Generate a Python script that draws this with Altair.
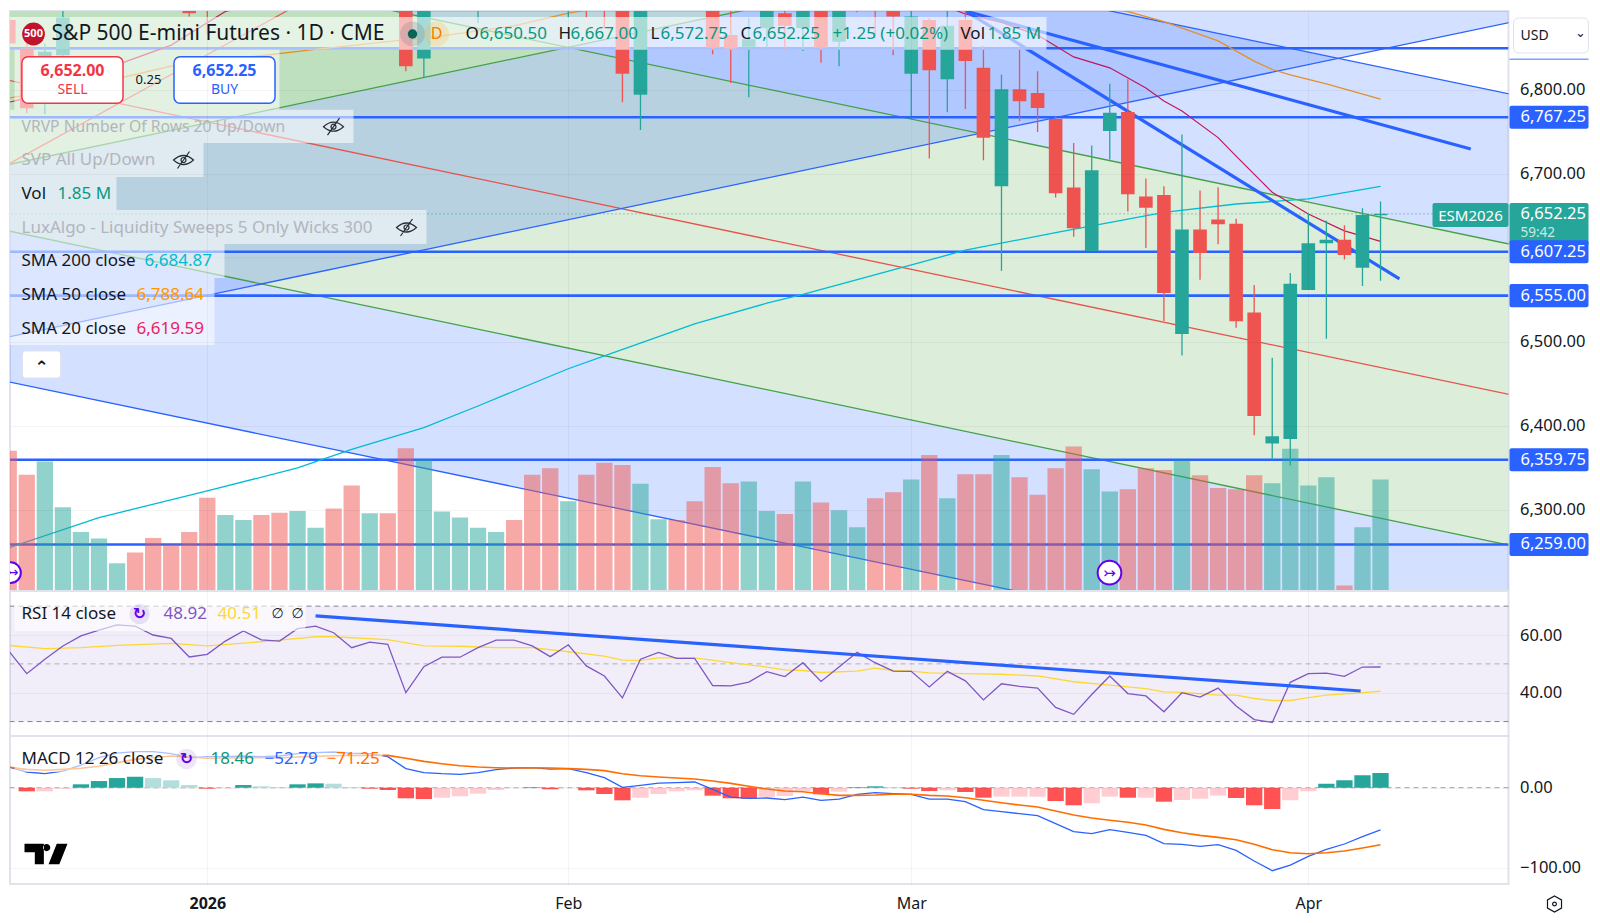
import altair as alt
import pandas as pd

# ---------- data ----------
opens = [6883,6849,6800,6841,6900,6905,6925,6945,6945,6935,6920,6925,6915,6930,6955,6960,6945,6960,6980,6970,
         6945,6960,6925,6837,6925,6925,6920,6930,6945,6935,6925,6905,6925,6920,6925,6794,6915,6935,6930,6925,
         6865,6851,6873,6891,6873.5,6925,6857,6895,6930,6899,6819,6883,6812.5,6883,6826,6685.1,6800.5,6796.1,
         6765.2,6683.5,6608.2,6750.9,6773.5,6672.8,6674.8,6509.3,6633.8,6645.7,6640.5,6535,6379.2,6384.4,
         6561.6,6617.2,6621.5,6588.2,6650.5]
closes = [6855,6778,6845,6886,6925,6930,6935,6930,6925,6915,6891,6898,6930,6945,6940,6945,6965,6975,6965,6945,
          6960,6930,6828,6925,6945,6940,6935,6945,6930,6915,6905,6925,6900,6898,6819,6920,6930,6915,6910,6850,
          6849,6860,6905,6876,6915,6850,6910,6915,6905,6887,6887,6823,6876,6834,6742.7,6800.5,6786.2,6778.3,
          6676.8,6635.2,6704.2,6772.7,6675.6,6659.4,6558.2,6633.8,6605.7,6639.8,6524.4,6411.8,6387.6,6569.2,
          6617.2,6621.5,6603.3,6651,6652.25]
highs = [6895,6860,6855,6905,6935,6940,6945,6950,6950,6940,6925,6930,6935,6950,6960,6965,6970,6980,6985,6975,
         6965,6965,6930,6935,6950,6945,6940,6950,6950,6940,6930,6930,6930,6925,6930,6925,6935,6940,6940,6930,
         6905,6885,6915,6905,6925,6935,6925,6925,6940,6915,6905,6885,6905,6905,6852,6818,6850,6821.9,6768.4,
         6736.7,6733.5,6807.2,6812.4,6694.2,6685.1,6746.6,6680,6684,6646.5,6567.6,6481.2,6581.9,6652.4,
         6644.5,6638.6,6659,6667]
lows = [6840,6772,6771,6825,6897,6898,6915,6920,6915,6905,6887,6866,6905,6920,6925,6935,6940,6950,6955,6930,
        6925,6905,6822,6814,6915,6905,6879,6915,6915,6905,6898,6886,6886,6873,6785,6752,6905,6905,6900,6842,
        6808,6791,6849,6848,6846,6832,6828,6892,6861,6841,6768,6718,6773,6777,6716,6584.4,6762.8,6749.8,
        6671.6,6624.9,6608.2,6716.8,6655,6611.8,6524.8,6483.9,6573.9,6616,6516.8,6388.8,6359.8,6353,6561.6,
        6503.8,6598.1,6566.5,6572.75]
volumes = [2.33,1.93,2.15,1.39,0.98,0.87,0.46,0.64,0.88,0.77,0.98,1.55,1.26,1.18,1.26,1.30,1.33,1.05,1.37,1.75,
           1.29,1.29,2.37,2.18,1.32,1.22,1.05,0.98,1.18,1.93,2.04,1.49,1.93,2.13,2.09,1.78,1.19,1.18,1.49,2.06,
           1.79,1.82,1.33,1.28,1.82,1.47,1.34,1.06,1.54,1.64,1.85,2.26,1.54,1.94,1.94,2.26,1.89,1.60,2.04,2.40,
           2.02,1.65,1.69,2.04,2.01,2.17,1.92,1.71,1.69,1.92,1.79,2.36,1.75,1.89,0.09,1.06,1.85]
rsi = [54.5,46.6,51.6,56.2,59.7,61.7,63.5,63.1,60,58.8,52.4,53.3,57.9,61.4,58.3,57.9,62.2,63.1,60.8,55.6,
       57.5,56.8,40,49,52.3,52.3,55.6,58.2,58.2,56.2,52.5,56.6,49.3,45.8,38.2,51.6,54,51.9,51.9,42.5,
       42.4,43.7,47.3,45.6,50.4,43.9,48.9,54,50.4,47.5,47.4,42,47.4,44.1,37.5,43.1,42.2,41.6,34.9,32.5,
       39.4,45.8,39.7,38.9,33.4,40,38.5,41.6,35.4,30.7,29.7,43.6,46.6,46.8,45.7,48.9,48.92]
rsi_ma_idx = [0,2,4,6,9,11,13,15,17,18,21,23,25,27,29,31,33,34,35,36,38,40,42,43,44,45,47,48,49,50,51,53,55,57,59,61,63,64,65,67,68,69,70,71,72,73,75,76]
rsi_ma_val = [56.4,55.3,55.6,56.4,57.1,56.2,57.2,58.2,59.4,59.4,58.4,56.2,56.1,55.6,55.6,54.2,52.7,51.3,51.2,52.1,52.1,50.4,48.9,47.9,47.7,47,47.5,48.5,47.7,47.5,46.9,46.6,46.4,45.8,43.8,42.6,41.4,40.3,40.1,39.2,39.2,38,37.3,37.3,38.3,39.2,40,40.51]
macd_hist = [0,-4.6,-4.6,-1.2,4.2,8.3,12,13.8,12,9.2,3.3,-1.2,-0.8,3.3,1.7,0.8,4.2,5.4,5,0.8,
             -1.2,-2.9,-13.3,-14.2,-12.5,-10.8,-7.5,-2.9,-0.4,0.8,-2,-0.4,-3.3,-7.9,-15.8,-12.5,-7.9,-4.6,-3.3,-10,
             -13.3,-13.8,-11.7,-10.4,-4.2,-8.3,-5,0.8,1.7,0.8,-1.2,-4.2,-3.3,-5.4,-12.5,-11.2,-11.2,-11.2,-16.7,-22,
             -19.6,-11.2,-12.5,-12.5,-17.5,-15.4,-13.8,-10,-12.9,-22,-26.7,-15.8,-4.6,5,9.2,15.4,18.46]
macd_line = [25.8,19.6,17.5,20.8,28.3,37.5,43.3,45,45,42.5,37.5,38.8,38.8,39.6,38.8,39.6,42.5,43.8,44.6,43.3,
             42.5,38.8,23.8,18.8,17.5,16.7,18.8,22.5,24.6,25,23.3,23.8,18.8,12.5,0.4,2.9,5.8,6.3,7.1,-2.1,
             -11.7,-13.3,-12.9,-15,-11.7,-15.8,-14.2,-8.3,-6.3,-7.5,-8.3,-14.2,-14.2,-17.5,-27.5,-30,-32.5,-35,-45,-55,
             -57.5,-52.5,-55.8,-59.6,-70,-70.8,-73.3,-71.3,-78.3,-91.7,-103.8,-96.7,-85.8,-77.1,-70.4,-61.3,-52.79]
macd_signal = [25.8,22.9,21.7,22.9,24.2,26.7,31.3,35.4,37.5,39.6,38.3,36.7,37.1,37.5,37.5,37.5,38.3,39.2,40,40.4,
               40.4,40.4,36.7,32.9,30,27.5,25.8,25,24.6,25,24.6,23.8,22.9,21.3,17.5,15,13.3,12.1,10.8,8.3,
               5.4,1.7,-1.7,-4.2,-5,-7.5,-9.6,-9.6,-9.2,-8.3,-8.3,-9.6,-10.4,-12.5,-15.8,-18.8,-21.7,-24.2,-29.2,-34.2,
               -37.9,-40.8,-43.3,-46.7,-52.1,-56.3,-59.6,-62.1,-65,-70.8,-77.5,-81.3,-82.5,-81.3,-79.2,-75.4,-71.25]
sma200_idx = [0,5,11,16,19,23,26,31,33,38,42,44,53,58,64,68,72,76]
sma200_val = [6255,6291,6322.6,6350,6372,6398,6423.7,6468,6483.2,6521.3,6546,6556.6,6609,6630,6654,6664,6670,6684.87]
sma50_idx = [0,6,9,17,24,28,31,38,46,54,62,64,67,69,70,71,73,76]
sma50_val = [6790,6813,6828,6848,6864,6876,6891,6915,6925,6915,6893,6881,6858,6834,6824,6817.5,6807,6788.64]
sma20_idx = [0,1,4,9,12,20,35,50,53,55,57,59,61,63,64,65,67,68,70,72,74,76]
sma20_val = [6785,6790,6814,6853,6893,6935,6945,6915,6890,6880,6865,6839,6826,6802,6786.5,6774.7,6743,6721,6678,6652,6632,6619.59]
levels = [6849.3,6767.25,6607.25,6555,6359.75,6259]
level_labels = [6767.25,6607.25,6555,6359.75,6259]
price_ticks = [6300,6400,6500,6700,6800]
month_ticks = [11,31,50,72]
# channels and trend lines: [index, price] pairs
desc_green_upper = [6989.4,6616.9]
desc_green_lower = [6631.9,6258.7]
desc_green_mid = [6811,6438]
desc_blue_upper = [7166,6795.6]
desc_blue_lower = [6452.3,6082.3]
rise_green = [6711,7084.6]
rise_blue = [6505.9,6879.3]
edge_idx = [0,83.5]
edge_scale = 83.5 / 83
steep_red = ([0,16],[6711.7,6900.7])
thick_a = ([53,77.05],[6893.6,6574.8])
thick_b = ([53,81],[6893.6,6729.5])
rsi_trend = ([17,74.9],[66.6,40.6])

# ---------- layout ----------
FONT = "Noto Sans"
LEFT, TOP = 10.5, 10
W, H1, H2, H3 = 1498.5, 580, 145, 148
T2, T3 = TOP + H1, TOP + H1 + H2
UP, DN = "#26a69a", "#ef5350"
BLUE = "#2962ff"
INK = "#131722"
GREY = "#b2b5be"
RIGHT = 1589

xs = alt.Scale(domain=[0.07, 83.09], nice=False, zero=False, padding=0)
ps = alt.Scale(domain=[6203.6, 6893.6], nice=False, zero=False, padding=0)
vs = alt.Scale(domain=[0, 9.63], nice=False, padding=0)
rs = alt.Scale(domain=[25, 75.25], nice=False, zero=False, padding=0)
ms = alt.Scale(domain=[-120.4, 64.6], nice=False, zero=False, padding=0)

one = pd.DataFrame({"a": [0]})
n = len(opens)
idx = list(range(n))
bars = pd.DataFrame({"i": idx, "o": opens, "c": closes, "h": highs, "l": lows, "v": volumes})
bars["col"] = [UP if c >= o else DN for o, c in zip(opens, closes)]
hist_col = []
for k, v in enumerate(macd_hist):
    prev = macd_hist[k - 1] if k else 0
    if v >= 0:
        hist_col.append(UP if v >= prev else "#b2dfdb")
    else:
        hist_col.append("#ff5252" if v < prev else "#ffcdd2")
ind = pd.DataFrame({"i": idx, "rsi": rsi, "h": macd_hist, "m": macd_line, "s": macd_signal, "col": hist_col, "zero": [0] * n})


def X(): return alt.X("i:Q", scale=xs, axis=None)
def P(f="p"): return alt.Y(f"{f}:Q", scale=ps, axis=None)
COL = alt.Color("col:N", scale=None, legend=None)


def stretch(pair):
    # continue a straight channel edge slightly past index 83 so it reaches the pane's right side
    return [pair[0], pair[0] + (pair[1] - pair[0]) * edge_scale]


def band(a, b, color, opacity=1.0):
    df = pd.DataFrame({"i": edge_idx, "p": stretch(a), "q": stretch(b)})
    return alt.Chart(df).mark_area(color=color, opacity=opacity, clip=True, line=False).encode(x=X(), y=P(), y2="q:Q")


def line(ix, vals, color, width=1.0, scale=ps, opacity=1.0):
    df = pd.DataFrame({"i": ix, "p": vals})
    return alt.Chart(df).mark_line(color=color, strokeWidth=width, clip=True, opacity=opacity).encode(
        x=X(), y=alt.Y("p:Q", scale=scale, axis=None))


def edge(pair, color, width=1.3):
    return line(edge_idx, stretch(pair), color, width)


def T(s, x, y, color=INK, size=17, weight="normal", align="left", top=TOP, font=FONT, opacity=1.0, clip=False):
    return alt.Chart(one).mark_text(text=s, align=align, baseline="middle", color=color, fontSize=size,
                                    fontWeight=weight, font=font, opacity=opacity, clip=clip).encode(
        x=alt.value(x - LEFT), y=alt.value(y - top))


def box(x0, x1, y0, y1, fill="#ffffff", opacity=0.6, top=TOP, stroke=None, sw=1, r=0):
    kw = {"stroke": stroke, "strokeWidth": sw} if stroke else {}
    return alt.Chart(one).mark_rect(color=fill, opacity=opacity, cornerRadius=r, **kw).encode(
        x=alt.value(x0 - LEFT), x2=alt.value(x1 - LEFT), y=alt.value(y0 - top), y2=alt.value(y1 - top))


def dot(x, y, size, fill, top=TOP, stroke=None, sw=1, shape="circle", filled=True, opacity=1.0, clip=False):
    kw = {}
    if stroke:
        kw = {"stroke": stroke, "strokeWidth": sw}
    return alt.Chart(one).mark_point(shape=shape, size=size, filled=filled, fill=fill, opacity=opacity, clip=clip, **kw).encode(
        x=alt.value(x - LEFT), y=alt.value(y - top))


EYE = "M-1,0 Q0,-0.9 1,0 Q0,0.9 -1,0 Z M-0.6,0.85 L0.6,-0.85 M-0.25,0 A0.25,0.25 0 1 0 0.25,0 A0.25,0.25 0 1 0 -0.25,0"
def eye(x, y):
    return alt.Chart(one).mark_point(shape=EYE, size=400, stroke=INK, strokeWidth=1.2, filled=False, opacity=0.9).encode(
        x=alt.value(x - LEFT), y=alt.value(y - TOP))


month_expr = "datum.value==11?'2026':datum.value==31?'Feb':datum.value==50?'Mar':'Apr'"
GRID = dict(grid=True, gridColor="#000000", gridOpacity=0.045, gridWidth=1, zindex=1)
def xaxis_blank():
    return alt.Axis(values=month_ticks, labels=False, ticks=False, domain=False, title=None, **GRID)
def yaxis(vals):
    return alt.Axis(values=vals, orient="right", format=",.2f", ticks=False, domain=False, title=None, labelFont=FONT,
                    labelFontSize=16.5, labelColor=INK, labelPadding=11, **GRID)


# ---------- price pane ----------
price_layers = [
    alt.Chart(pd.DataFrame({"i": month_ticks, "p": [6500] * 4})).mark_point(opacity=0).encode(
        x=alt.X("i:Q", scale=xs, axis=xaxis_blank()), y=alt.Y("p:Q", scale=ps, axis=yaxis(price_ticks))),
    band(desc_blue_upper, desc_blue_lower, BLUE, 0.2),
    band(desc_green_upper, desc_green_lower, "#dcedda"),
    band(rise_green, [v + 700 for v in rise_green], "#4caf50", 0.2),
    band(rise_green, rise_blue, BLUE, 0.2),
    edge(desc_blue_upper, BLUE),
    edge(desc_blue_lower, BLUE),
    edge(desc_green_upper, "#43a047"),
    edge(desc_green_lower, "#43a047"),
    edge(desc_green_mid, "#e5534b"),
    edge(rise_green, "#43a047"),
    edge(rise_blue, BLUE),
    line(*steep_red, "#ef5350", 1.2),
]
lev = pd.DataFrame({"p": levels})
price_layers += [
    alt.Chart(pd.DataFrame({"p": [6600]})).mark_rule(color="#000000", opacity=0.045).encode(y=P()),
    alt.Chart(lev).mark_rule(color=BLUE, strokeWidth=2.6, clip=True).encode(y=P()),
    alt.Chart(pd.DataFrame({"p": [closes[-1]]})).mark_rule(color=UP, strokeWidth=1, strokeDash=[1, 3]).encode(y=P()),
    line(sma200_idx, sma200_val, "#00bcd4", 1.3),
    line(sma50_idx, sma50_val, "#e3902b", 1.3),
    line(sma20_idx, sma20_val, "#c2185b", 1.2),
    line(*thick_a, BLUE, 3.2),
    line(*thick_b, BLUE, 3.2),
    alt.Chart(bars).mark_bar(size=16.3, opacity=0.5, orient="vertical", clip=True).encode(
        x=X(), y=alt.Y("v:Q", scale=vs, axis=None), y2=alt.value(H1), color=COL),
    alt.Chart(bars).mark_rule(strokeWidth=1.3, clip=True).encode(x=X(), y=P("l"), y2="h:Q", color=COL),
    alt.Chart(bars).mark_bar(size=13.6, orient="vertical", clip=True).encode(x=X(), y=P("o"), y2="c:Q", color=COL),
]

# legend panel and overlays
price_layers += [
    box(10.5, 1047, 16, 48.7),
    box(10.5, 354, 108.7, 142, opacity=0.55),
    box(10.5, 204, 142, 176, opacity=0.55),
    box(10.5, 117, 176, 209, opacity=0.55),
    box(10.5, 427, 209, 243, opacity=0.55),
    box(10.5, 225, 243, 277, opacity=0.55),
    box(10.5, 215, 277, 310, opacity=0.55),
    box(10.5, 215, 310, 344, opacity=0.55),
    box(15, 280, 48.7, 108.7, opacity=0.55),
    dot(34, 33, 520, "#c2132d"),
    T("500", 34, 33, "#ffffff", 11, "bold", "center"),
    T("S&P 500 E-mini Futures · 1D · CME", 52, 33, INK, 21),
    dot(413, 33, 620, "#787b86", opacity=0.25),
    dot(413, 33, 90, "#056656"),
    dot(437, 33, 620, "#ffb74d", opacity=0.25),
    T("D", 437, 33, "#f57c00", 16, "normal", "center"),
    T("O", 466, 33, INK, 17), T("6,650.50", 480, 33, "#089981", 17),
    T("H", 559, 33, INK, 17), T("6,667.00", 571, 33, "#089981", 17),
    T("L", 651, 33, INK, 17), T("6,572.75", 661, 33, "#089981", 17),
    T("C", 741, 33, INK, 17), T("6,652.25", 753, 33, "#089981", 17),
    T("+1.25 (+0.02%)", 833, 33, "#089981", 17),
    T("Vol", 961, 33, INK, 17), T("1.85 M", 988, 33, "#089981", 17),
    box(22.4, 123.5, 55.7, 102.3, "#ffffff", 1, stroke="#f23645", sw=1.5, r=6),
    T("6,652.00", 73, 70, "#f23645", 16, "bold", "center"),
    T("SELL", 73, 89, "#f23645", 14, "normal", "center"),
    T("0.25", 149, 79, INK, 13, "normal", "center"),
    box(174.5, 275.5, 55.7, 102.3, "#ffffff", 1, stroke=BLUE, sw=1.5, r=6),
    T("6,652.25", 225, 70, BLUE, 16, "bold", "center"),
    T("BUY", 225, 89, BLUE, 14, "normal", "center"),
    T("VRVP Number Of Rows 20 Up/Down", 22, 125.7, GREY, 15.7), eye(334, 125.7),
    T("SVP All Up/Down", 22, 159, GREY), eye(184, 159),
    T("Vol", 22, 192.7), T("1.85 M", 58, 192.7, "#089981"),
    T("LuxAlgo - Liquidity Sweeps 5 Only Wicks 300", 22, 226.5, GREY), eye(407, 226.5),
    T("SMA 200 close", 22, 260), T("6,684.87", 145, 260, "#00bcd4"),
    T("SMA 50 close", 22, 293.7), T("6,788.64", 137, 293.7, "#ff9800"),
    T("SMA 20 close", 22, 327.5), T("6,619.59", 137, 327.5, "#e91e63"),
    box(23, 61, 350, 377, "#ffffff", 1, stroke="#e0e3eb", sw=1, r=3),
    T("⌃", 42, 367, INK, 17, "bold", "center", font="DejaVu Sans"),
    dot(11, 571.7, 430, "#ffffff", stroke="#6200ea", sw=2, clip=True),
    T("↣", 13, 571.7, "#6200ea", 14, "normal", "center", font="DejaVu Sans", clip=True),
    dot(1110, 571.7, 560, "#ffffff", stroke="#6200ea", sw=2),
    T("↣", 1110, 571.7, "#6200ea", 15, "normal", "center", font="DejaVu Sans"),
]

# right-hand price tags
TAG = 13.7
tags = pd.DataFrame({"p": [v + TAG for v in level_labels], "q": [v - TAG for v in level_labels]})
tagtxt = pd.DataFrame({"p": level_labels, "t": [f"{v:,.2f}" for v in level_labels]})
price_layers += [
    alt.Chart(pd.DataFrame({"p": [6665.2], "q": [6614]})).mark_rect(color=UP, cornerRadius=2).encode(
        x=alt.value(1510 - LEFT), x2=alt.value(RIGHT - LEFT), y=P(), y2="q:Q"),
    alt.Chart(pd.DataFrame({"p": [6665.2], "q": [6636.7]})).mark_rect(color=UP, cornerRadius=2).encode(
        x=alt.value(1433 - LEFT), x2=alt.value(1509 - LEFT), y=P(), y2="q:Q"),
    T("ESM2026", 1471, 214.5, "#ffffff", 15, "normal", "center"),
    T("6,652.25", 1521, 213, "#ffffff", 16.5),
    T("59:42", 1521, 231.5, "#ffffff", 13.5, opacity=0.75),
    alt.Chart(tags).mark_rect(color=BLUE, cornerRadius=2).encode(
        x=alt.value(1510 - LEFT), x2=alt.value(RIGHT - LEFT), y=P(), y2="q:Q"),
    alt.Chart(tagtxt).mark_text(align="left", baseline="middle", color="#ffffff", fontSize=16.5, font=FONT).encode(
        x=alt.value(1521 - LEFT), y=P(), text="t:N"),
    box(1510, RIGHT, 57.5, 59, BLUE, 0.6),
    box(1514, RIGHT, 17, 52, "#ffffff", 1, stroke="#e0e3eb", sw=1, r=5),
    T("USD", 1521, 34.5, INK, 14),
    T("⌄", 1581, 32, INK, 13, "normal", "center", font="DejaVu Sans"),
]
pane1 = alt.layer(*price_layers).resolve_scale(y="independent").resolve_axis(x="independent").properties(width=W, height=H1)

# ---------- RSI pane ----------
R = lambda: alt.Y("p:Q", scale=rs, axis=None)
rsi_layers = [
    alt.Chart(pd.DataFrame({"i": month_ticks, "p": [50] * 4})).mark_point(opacity=0).encode(
        x=alt.X("i:Q", scale=xs, axis=xaxis_blank()), y=alt.Y("p:Q", scale=rs, axis=yaxis([40, 60]))),
    alt.Chart(pd.DataFrame({"p": [70], "q": [30]})).mark_rect(color="#7e57c2", opacity=0.1).encode(y=R(), y2="q:Q"),
    alt.Chart(pd.DataFrame({"p": [70, 50, 30], "o": [0.95, 0.55, 0.95]})).mark_rule(
        color="#787b86", strokeWidth=1, strokeDash=[5, 4]).encode(y=R(), opacity=alt.Opacity("o:Q", scale=None, legend=None)),
    line(rsi_ma_idx, rsi_ma_val, "#fdd835", 1.3, rs),
    line(idx, rsi, "#7e57c2", 1.3, rs),
    line(*rsi_trend, BLUE, 3.2, rs),
    box(15, 306, 604, 630, top=T2, opacity=0.6),
    T("RSI 14 close", 22, 613, top=T2),
    dot(140, 613, 420, "#7e57c2", top=T2, opacity=0.15),
    T("↻", 140, 613, "#6200ea", 16, "bold", "center", top=T2, font="DejaVu Sans"),
    T("48.92", 164, 613, "#7e57c2", top=T2),
    T("40.51", 218, 613, "#fdd835", top=T2),
    T("∅", 272, 613, INK, 14, top=T2, font="DejaVu Sans"),
    T("∅", 292, 613, INK, 14, top=T2, font="DejaVu Sans"),
]
pane2 = alt.layer(*rsi_layers).resolve_scale(y="independent").resolve_axis(x="independent").properties(width=W, height=H2)

# ---------- MACD pane ----------
M = lambda f="p": alt.Y(f"{f}:Q", scale=ms, axis=None)
LOGO = "M-1,-0.48 H-0.1 V0.48 H-0.52 V-0.08 H-1 Z M0.2,-0.3 A0.17,0.17 0 1 0 -0.14,-0.3 A0.17,0.17 0 1 0 0.2,-0.3 Z M0.5,-0.48 H1 L0.62,0.48 H0.12 Z"
HEX = "M0,-1 L0.87,-0.5 L0.87,0.5 L0,1 L-0.87,0.5 L-0.87,-0.5 Z"
macd_layers = [
    alt.Chart(pd.DataFrame({"i": month_ticks, "p": [0] * 4})).mark_point(opacity=0).encode(
        x=alt.X("i:Q", scale=xs, axis=alt.Axis(
            values=month_ticks, labelExpr=month_expr, ticks=False, domain=False, title=None, labelFont=FONT,
            labelFontSize=16, labelColor=INK, labelPadding=11,
            labelFontWeight={"condition": {"test": "datum.value==11", "value": "bold"}, "value": "normal"}, **GRID)),
        y=alt.Y("p:Q", scale=ms, axis=alt.Axis(values=[0, -100], orient="right", format=",.2f", ticks=False, domain=False,
                                               title=None, labelFont=FONT, labelFontSize=16.5, labelColor=INK,
                                               labelPadding=11, **GRID))),
    alt.Chart(pd.DataFrame({"p": [0]})).mark_rule(color="#787b86", strokeWidth=1, strokeDash=[5, 4], opacity=0.7).encode(y=M()),
    alt.Chart(ind).mark_bar(size=16.3, orient="vertical", clip=True).encode(x=X(), y=M("h"), y2="zero:Q", color=COL),
    line(idx, macd_line, BLUE, 1.3, ms),
    line(idx, macd_signal, "#ff6d00", 1.6, ms),
    box(15, 383, 745, 771, top=T3, opacity=0.6),
    T("MACD 12 26 close", 22, 758, top=T3),
    dot(187, 758, 420, "#7e57c2", top=T3, opacity=0.15),
    T("↻", 187, 758, "#6200ea", 16, "bold", "center", top=T3, font="DejaVu Sans"),
    T("18.46", 211, 758, "#089981", top=T3),
    T("−52.79", 265, 758, BLUE, top=T3),
    T("−71.25", 327, 758, "#ff6d00", top=T3),
    alt.Chart(one).mark_point(shape=LOGO, size=1849, filled=True, fill="#000000", opacity=1, strokeWidth=0).encode(
        x=alt.value(46.5 - LEFT), y=alt.value(853 - T3)),
    alt.Chart(one).mark_point(shape=HEX, size=260, filled=False, stroke=INK, strokeWidth=1.2, opacity=1).encode(
        x=alt.value(1555 - LEFT), y=alt.value(903 - T3)),
    dot(1555, 903, 14, "#ffffff", top=T3, stroke=INK, sw=1.2),
]
pane3 = alt.layer(*macd_layers).resolve_scale(y="independent").resolve_axis(x="independent").properties(width=W, height=H3)

chart = alt.vconcat(pane1, pane2, pane3, spacing=0, bounds="flush").properties(
    padding={"left": 0, "top": 2, "right": 0, "bottom": 0}, background="#ffffff"
).configure_view(stroke="#e0e3eb", strokeWidth=2, fill="#ffffff").configure_concat(spacing=0)

chart.save("out.html", embed_options={"renderer": "svg", "actions": False})
